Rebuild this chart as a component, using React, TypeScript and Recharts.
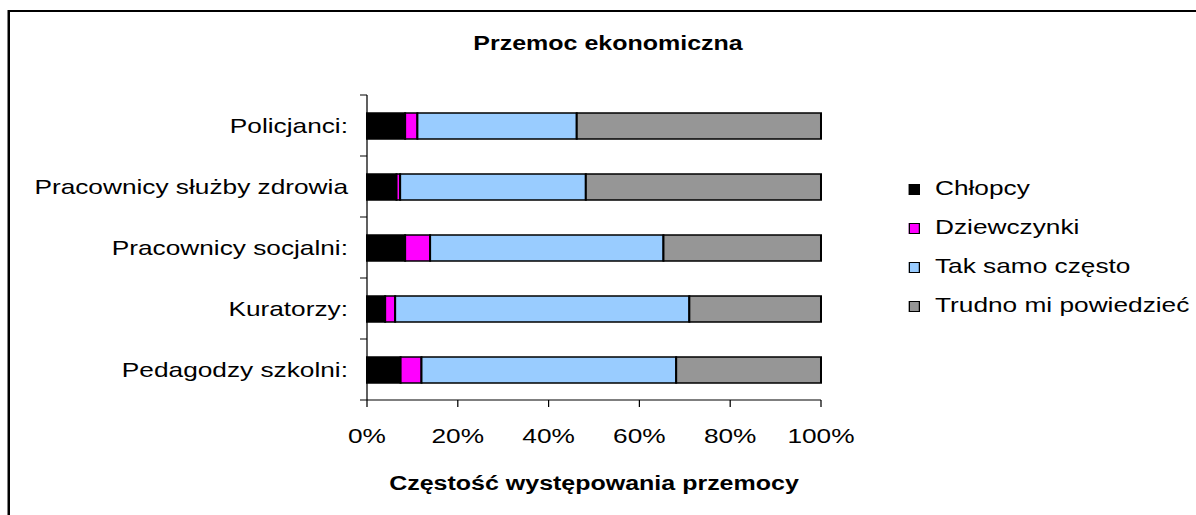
import { Bar, BarChart, XAxis, YAxis } from "recharts";

const categories = [
  "Policjanci:",
  "Pracownicy służby zdrowia",
  "Pracownicy socjalni:",
  "Kuratorzy:",
  "Pedagodzy szkolni:",
];
const chlopcy = [8.4, 6.5, 8.4, 4.0, 7.4];
const dziewczynki = [2.7, 0.8, 5.5, 2.2, 4.6];
const takSamo = [35.1, 40.9, 51.4, 64.8, 56.1];
const trudno = [53.8, 51.8, 34.7, 29.0, 31.9];

const seriesKeys = ["chlopcy", "dziewczynki", "takSamo", "trudno"];
const seriesNames = ["Chłopcy", "Dziewczynki", "Tak samo często", "Trudno mi powiedzieć"];
const seriesColors = ["#000000", "#FF00FF", "#99CCFF", "#969696"];

const xTicks = [0, 20, 40, 60, 80, 100];

const data = categories.map((name, i) => ({
  name,
  chlopcy: chlopcy[i],
  dziewczynki: dziewczynki[i],
  takSamo: takSamo[i],
  trudno: trudno[i],
}));

const font = "'Liberation Sans', Arial, sans-serif";

// the original picture is stretched sideways, so the whole chart is too
const STRETCH = 1.25;
const W = 1196 / STRETCH;
const H = 515;
const TOP = 95;
const BOTTOM_AXIS = 115;
const Y_TICK = 5.6;
const Y_MARGIN = 9.6;

// category label plus the small tick marks between categories (Excel style)
function CategoryTick(props: any) {
  const { x, y, payload, index, visibleTicksCount } = props;
  const band = (H - TOP - BOTTOM_AXIS) / visibleTicksCount;
  const axisX = x + Y_TICK + Y_MARGIN;
  return (
    <g>
      <line x1={axisX - Y_TICK} x2={axisX} y1={y - band / 2} y2={y - band / 2} stroke="#000" />
      {index === visibleTicksCount - 1 && (
        <line x1={axisX - Y_TICK} x2={axisX} y1={y + band / 2} y2={y + band / 2} stroke="#000" />
      )}
      <text x={x} y={y} dy="0.355em" textAnchor="end" fill="#000" fontSize={21} fontFamily={font}>
        {payload.value}
      </text>
    </g>
  );
}

export default function App() {
  return (
    <div
      style={{
        position: "fixed",
        left: 0,
        top: 0,
        width: 1196,
        height: 515,
        overflow: "hidden",
        background: "#fff",
        fontFamily: font,
      }}
    >
      <div
        style={{
          position: "absolute",
          left: 0,
          top: 0,
          width: W,
          height: H,
          transform: `scaleX(${STRETCH})`,
          transformOrigin: "0 0",
        }}
      >
        <div
          style={{
            position: "absolute",
            left: 6.4,
            top: 10,
            width: 1100,
            height: 600,
            border: "2px solid #000",
          }}
        />
        <div
          style={{
            position: "absolute",
            left: 286.4,
            top: 33,
            width: 400,
            textAlign: "center",
            fontSize: 20,
            lineHeight: "20px",
            fontWeight: "bold",
          }}
        >
          Przemoc ekonomiczna
        </div>
        <div style={{ position: "absolute", left: 0, top: 0 }}>
          <BarChart
            width={W}
            height={H}
            data={data}
            layout="vertical"
            margin={{ top: TOP, right: 300, bottom: 0, left: 0 }}
          >
            <XAxis
              type="number"
              domain={[0, 100]}
              ticks={xTicks}
              interval={0}
              tickFormatter={(v: number) => `${v}%`}
              axisLine={{ stroke: "#000" }}
              tickLine={{ stroke: "#000" }}
              tickSize={7}
              tickMargin={21}
              height={BOTTOM_AXIS}
              tick={{ fill: "#000", fontSize: 21, fontFamily: font }}
              label={{
                value: "Częstość występowania przemocy",
                position: "insideBottom",
                offset: 25,
                fill: "#000",
                fontSize: 20,
                fontWeight: "bold",
                fontFamily: font,
              }}
            />
            <YAxis
              type="category"
              dataKey="name"
              width={293.6}
              interval={0}
              tickLine={false}
              axisLine={{ stroke: "#000" }}
              tickSize={Y_TICK}
              tickMargin={Y_MARGIN}
              tick={<CategoryTick />}
            />
            {seriesKeys.map((key, i) => (
              <Bar
                key={key}
                dataKey={key}
                name={seriesNames[i]}
                stackId="s"
                fill={seriesColors[i]}
                stroke="#000"
                strokeWidth={1.6}
                barSize={26}
                isAnimationActive={false}
              />
            ))}
          </BarChart>
        </div>
        <div style={{ position: "absolute", left: 727.2, top: 168 }}>
          {seriesNames.map((n, i) => (
            <div
              key={n}
              style={{
                height: 39,
                lineHeight: "39px",
                fontSize: 21,
                whiteSpace: "nowrap",
              }}
            >
              <span
                style={{
                  display: "inline-block",
                  width: 8.8,
                  height: 11,
                  boxSizing: "border-box",
                  border: "1px solid #000",
                  background: seriesColors[i],
                  verticalAlign: "baseline",
                  marginRight: 12,
                }}
              />
              {n}
            </div>
          ))}
        </div>
      </div>
    </div>
  );
}
